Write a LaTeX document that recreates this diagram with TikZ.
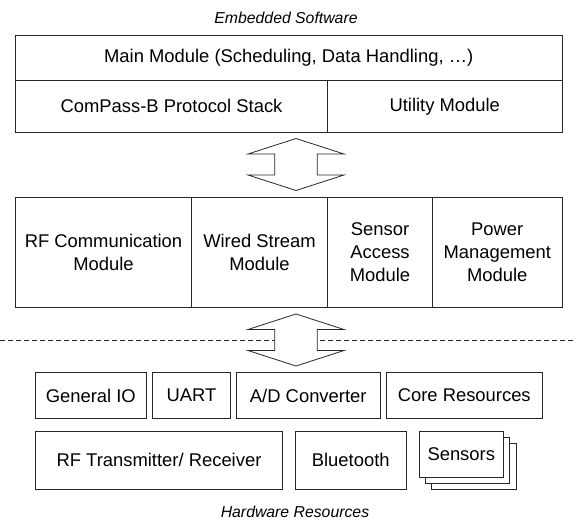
\documentclass[tikz,border=0pt]{standalone}
\usepackage{fontspec}
\setmainfont{Liberation Sans}
\newcommand\bx[6]{%
  \pgfmathsetmacro\mybw{#4-#2}\pgfmathsetmacro\mybh{#5-#3}%
  \pgfmathsetmacro\mycx{(#2+#4)/2}\pgfmathsetmacro\mycy{(#3+#5)/2}%
  \node[box,minimum width=\mybw pt,minimum height=\mybh pt] (#1) at (\mycx,\mycy) {#6};}
\newcommand\darr[2]{%
  \draw[dbl] (#1,#2) -- ++(48,15.5) -- ++(-26.7,0) -- ++(0,21) -- ++(26.7,0)
    -- ++(-48,15.5) -- ++(-48,-15.5) -- ++(26.7,0) -- ++(0,-21) -- ++(-26.7,0) -- cycle;}
\begin{document}
\begin{tikzpicture}[x=1pt,y=-1pt,
  box/.style={draw=black!85, fill=white, line width=0.8pt, inner sep=0pt, align=center,
    font=\fontsize{18.4}{23}\selectfont},
  lbl/.style={inner sep=0pt, font=\fontsize{15.8}{19}\selectfont\itshape},
  dbl/.style={draw=black!85, line width=0.8pt, fill=white, line join=miter},
  sep/.style={draw=black!85, line width=0.8pt, dash pattern=on 5pt off 3pt}]
\useasboundingbox (0,0) rectangle (576,519);
\node[lbl] (sw) at (286,17.5) {Embedded Software};
% software block
\bx{main}{15.5}{35}{562}{80}{Main Module (Scheduling, Data Handling, \ldots)}
\bx{compass}{15.5}{80}{327.5}{132.5}{ComPass-B Protocol Stack}
\bx{util}{327.5}{80}{562}{132.5}{Utility Module}
% arrow 1
\darr{296}{138.5}
% middleware
\bx{rfc}{15.5}{197.5}{191.5}{307.5}{RF Communication\\Module}
\bx{wired}{191.5}{197.5}{327.5}{307.5}{Wired Stream\\Module}
\bx{sacc}{327.5}{197.5}{432.5}{307.5}{Sensor\\Access\\Module}
\bx{pwr}{432.5}{197.5}{562}{307.5}{Power\\Management\\Module}
% separator
\coordinate (sl) at (0,340.5);
\coordinate (sr) at (576,340.5);
\draw[sep] (sl) -- (sr);
% arrow 2
\darr{296}{314}
% hardware
\bx{gio}{35.5}{372.5}{146}{418.5}{General IO}
\bx{uart}{152.5}{372.5}{230.5}{418.5}{UART}
\bx{adc}{236.5}{372.5}{380}{418.5}{A/D Converter}
\bx{core}{386}{372.5}{542.5}{418.5}{Core Resources}
\bx{rftx}{35.5}{431}{282.5}{489.5}{RF Transmitter/ Receiver}
\bx{bt}{295.5}{431}{406}{489.5}{Bluetooth}
\bx{sen3}{431.5}{443.5}{516}{489.5}{}
\bx{sen2}{425.2}{437.2}{509.7}{483.2}{}
\bx{sen}{419}{431}{503.5}{477}{Sensors}
\node[lbl] (hw) at (295,511.5) {Hardware Resources};
\end{tikzpicture}
\end{document}
